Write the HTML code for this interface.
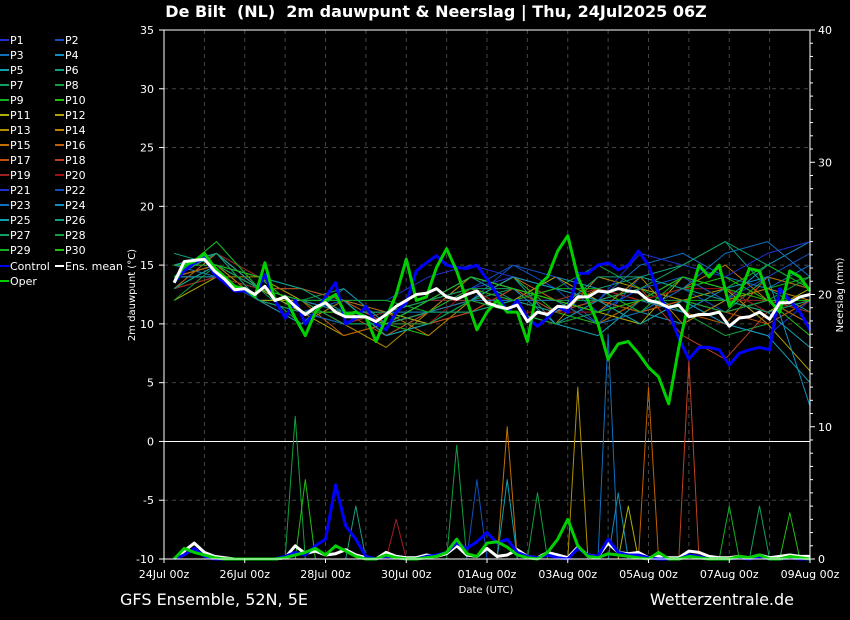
<!DOCTYPE html>
<html><head><meta charset="utf-8"><style>
body{margin:0;background:#000;width:850px;height:620px;overflow:hidden}
svg{display:block;font-family:"DejaVu Sans","Liberation Sans",sans-serif}
</style></head><body>
<svg id="chart" width="850" height="620" viewBox="0 0 850 620">
<text x="436" y="17" fill="#fff" font-size="16" font-weight="bold" text-anchor="middle" style="white-space:pre">De Bilt  (NL)  2m dauwpunt &amp; Neerslag | Thu, 24Jul2025 06Z</text>
<text x="120" y="605" fill="#fff" font-size="16">GFS Ensemble, 52N, 5E</text>
<text x="794" y="605" fill="#fff" font-size="16" text-anchor="end">Wetterzentrale.de</text>
<text x="486" y="593" fill="#fff" font-size="10" text-anchor="middle">Date (UTC)</text>
<text transform="translate(135,295) rotate(-90)" fill="#fff" font-size="10" text-anchor="middle">2m dauwpunt (°C)</text>
<text transform="translate(843,295) rotate(-90)" fill="#fff" font-size="10" text-anchor="middle">Neerslag (mm)</text>
<g id="grid"></g><g id="series"></g><g id="axes"></g><g id="legend"></g>
</svg>
<script>
const tempTicks=[35,30,25,20,15,10,5,0,-5,-10];
const precipTicks=[40,30,20,10,0];
const dateLabels=["24Jul 00z","26Jul 00z","28Jul 00z","30Jul 00z","01Aug 00z","03Aug 00z","05Aug 00z","07Aug 00z","09Aug 00z"];
const meanT=[13.5,15.3,15.4,15.5,14.5,13.8,12.9,13.0,12.5,13.2,12.0,12.3,11.5,10.8,11.4,11.8,11.0,10.6,10.6,10.6,10.2,10.8,11.5,12.0,12.5,12.6,13.0,12.3,12.1,12.5,12.8,11.8,11.5,11.3,11.6,10.2,11.0,10.8,11.5,11.4,12.3,12.3,12.8,12.7,13.0,12.8,12.7,12.0,11.8,11.4,11.6,10.6,10.8,10.8,11.0,9.8,10.5,10.6,11.0,10.4,11.8,11.8,12.3,12.5];
const controlT=[13.5,14.5,15.2,15.6,14.2,13.5,12.8,12.8,12.3,14.2,12.0,10.5,12.0,10.0,11.0,12.3,13.5,10.0,10.5,11.5,10.0,9.5,11.0,11.8,14.5,15.2,15.8,15.0,14.8,14.7,15.0,13.8,12.5,11.0,12.0,10.5,9.8,10.5,11.5,11.0,14.3,14.3,15.0,15.2,14.6,15.0,16.2,15.0,12.5,11.0,8.8,7.0,8.0,8.0,7.8,6.5,7.5,7.8,8.0,7.8,13.0,12.0,11.0,9.5];
const operT=[13.5,15.0,15.3,16.0,14.8,14.0,13.2,13.0,12.3,15.2,12.0,12.3,10.5,9.0,11.0,12.0,12.5,10.8,11.0,10.6,8.5,10.5,12.5,15.5,12.0,12.3,14.8,16.4,14.5,12.0,9.5,11.0,12.0,11.0,11.0,8.5,13.2,14.0,16.2,17.5,14.0,12.0,10.0,7.0,8.3,8.5,7.5,6.3,5.5,3.2,8.0,12.0,15.0,14.0,15.0,11.5,12.5,14.7,14.5,12.0,11.0,14.5,14.0,12.8];
const meanP=[0,0.6,1.2,0.5,0.2,0.1,0,0,0,0,0,0.1,1.0,0.4,0.6,0.3,0.4,0.7,0.3,0.1,0,0.5,0.2,0.1,0.1,0.3,0.2,0.4,1.0,0.3,0.2,0.8,0.2,0.3,0.7,0.2,0.1,0.5,0.3,0.1,0.9,0.3,0.2,1.2,0.5,0.4,0.5,0.1,0.2,0.1,0.1,0.6,0.5,0.2,0.1,0.1,0.2,0.1,0.3,0.1,0.2,0.3,0.2,0.2];
const controlP=[0,0.3,0.8,0.2,0,0,0,0,0,0,0,0.2,0.5,0.3,1.0,1.5,5.6,2.5,1.5,0.2,0,0.2,0.1,0,0,0.2,0.3,0.5,1.2,0.8,1.3,2.0,1.2,1.5,0.5,0.2,0.1,0.3,0.1,0,0.8,0.3,0.2,1.5,0.5,0.3,0.3,0.1,0,0,0,0.3,0.2,0,0,0,0.1,0,0.2,0,0,0.1,0,0];
const operP=[0,0.8,0.5,0.3,0.1,0,0,0,0,0,0,0.1,0.3,0.5,0.8,0.3,1.0,0.6,0.2,0,0,0.3,0.1,0,0,0.1,0.2,0.5,1.5,0.4,0.2,1.2,1.3,0.9,0.3,0.1,0,0.5,1.5,3.0,1.0,0.2,0.1,0.4,0.3,0.2,0.1,0,0.5,0,0,0.2,0.1,0,0,0,0.2,0.1,0.3,0,0,0.2,0.1,0];
const members=[
[14,15,13,12,11,10,11,13,14,12,11,13,12,10,9,12],[13,16,13,11,12,11,10,12,15,13,10,14,13,11,12,10],
[15,14,12,12,10,11,12,14,13,11,12,15,16,14,13,15],[14,16,14,13,12,9,11,13,12,14,13,11,10,12,15,17],
[13,15,13,11,10,10,12,12,14,10,9,12,14,13,11,8],[16,15,12,12,11,11,11,14,12,12,13,14,15,17,13,11],
[14,14,13,10,12,9,10,12,13,11,12,10,12,11,14,13],[15,16,14,12,13,10,11,11,12,13,15,13,11,9,10,12],
[13,15,12,11,10,11,12,13,11,10,12,13,12,12,13,14],[14,17,13,13,12,10,9,12,14,11,10,12,13,14,12,9],
[12,14,12,12,11,11,10,11,13,12,11,10,14,12,11,13],[14,15,13,11,9,10,12,13,12,14,12,11,12,13,10,6],
[13,14,14,12,10,8,11,12,11,10,14,13,12,11,12,11],[15,16,13,12,11,10,11,14,13,12,11,14,10,12,13,12],
[14,15,12,10,12,11,9,12,12,11,13,12,13,15,12,10],[13,16,13,12,9,10,11,12,14,12,10,12,11,10,14,13],
[14,14,12,11,11,9,11,13,12,13,12,11,12,11,10,12],[15,15,13,13,12,10,10,11,13,11,12,13,9,7,11,12],
[13,14,13,12,10,11,12,12,12,12,13,12,14,12,12,11],[14,16,14,11,11,10,10,13,11,11,11,12,13,13,11,12],
[15,15,13,12,12,12,14,15,14,13,12,16,15,14,16,17],[14,16,12,11,10,10,12,13,15,14,11,13,14,12,14,16],
[13,15,13,12,11,11,11,12,12,12,10,11,13,16,17,14],[14,14,12,10,13,10,12,14,13,10,12,12,11,13,14,3],
[15,16,13,12,12,9,10,12,14,13,12,10,12,10,9,5],[13,15,14,13,11,10,11,11,12,11,14,14,13,12,11,12],
[14,16,12,11,11,11,12,13,13,12,12,13,15,17,15,13],[12,15,13,12,10,10,10,12,11,10,11,12,12,11,12,14],
[14,17,13,12,12,12,11,13,12,13,13,11,14,13,15,13],[15,15,14,11,11,10,12,14,13,12,11,12,14,13,12,12]];
const spikeMember=[7,9,7,24,14,12,2,15,17,5,27,10,21,3,8,26,29,18];
const spikeStep=[12,13,28,33,33,40,43,47,51,18,36,45,30,44,55,58,61,22];
const spikeMM=[10.8,6,8.6,6,10,13,17,13,15,4,5,4,6,5,4,4,3.5,3];
const colors=["#2030d0","#1050c0","#1070c0","#1090c0","#10a0b0","#10a080","#10a060","#10a040","#10b020","#20c010","#b0b000","#b0a000","#b09000","#c08000","#c07000","#c06000","#c05010","#c04020","#a02020","#a01010"];
const NS="http://www.w3.org/2000/svg";
const X0=164,X1=810,Y0=30,Y1=559;
const xS=d=>X0+d*(X1-X0)/16;
const yT=v=>Y1-(v+10)*(Y1-Y0)/45;
const yP=v=>Y1-v*(Y1-Y0)/40;
function el(tag,attrs,parent){const e=document.createElementNS(NS,tag);for(const k in attrs)e.setAttribute(k,attrs[k]);parent.appendChild(e);return e;}
const grid=document.getElementById('grid'),ser=document.getElementById('series'),axes=document.getElementById('axes'),leg=document.getElementById('legend');
for(let d=1;d<16;d++){const g=el('line',{x1:xS(d),x2:xS(d),y1:Y0,y2:Y1,stroke:'#444','stroke-dasharray':'4,4'},grid);

}
tempTicks.forEach(t=>{if(t===0||t===35||t===-10)return;const g=el('line',{x1:X0,x2:X1,y1:yT(t),y2:yT(t),stroke:'#444','stroke-dasharray':'4,4'},grid);

});
const zl=el('line',{x1:X0,x2:X1,y1:yT(0),y2:yT(0),stroke:'#fff'},grid);


function poly(vals,xf,yf,color,w,name){const pts=vals.map((v,i)=>xf(i).toFixed(1)+','+yf(v).toFixed(1)).join(' ');
const p=el('polyline',{points:pts,fill:'none',stroke:color,'stroke-width':w,'stroke-linejoin':'round'},ser);

}
const x6=i=>xS(0.25+i*0.25);
const xm=i=>xS(0.25+i*15.75/15);
members.forEach((m,k)=>{poly(m,xm,yT,colors[k%20],1,'member-p'+(k+1)+'-dewpoint');});
members.forEach((m,k)=>{const arr=new Array(64).fill(0);spikeMember.forEach((s,j)=>{if(s===k){arr[spikeStep[j]]=spikeMM[j];}});
if(arr.some(v=>v>0))poly(arr,x6,yP,colors[k%20],1,'member-p'+(k+1)+'-precip');});
poly(meanP,x6,yP,'#fff',3,'ens-mean-precip');
poly(controlP,x6,yP,'#0000ff',3,'control-precip');
poly(operP,x6,yP,'#00d000',3,'oper-precip');
poly(controlT,x6,yT,'#0000ff',3,'control-dewpoint');
poly(operT,x6,yT,'#00d000',3,'oper-dewpoint');
poly(meanT,x6,yT,'#fff',3,'ens-mean-dewpoint');
const fr=el('rect',{x:X0,y:Y0,width:X1-X0,height:Y1-Y0,fill:'none',stroke:'#fff'},axes);


tempTicks.forEach(t=>{el('line',{x1:X0-5,x2:X0,y1:yT(t),y2:yT(t),stroke:'#fff'},axes);
const tx=el('text',{x:X0-10,y:yT(t)+4,fill:'#fff','font-size':11,'text-anchor':'end'},axes);tx.textContent=t;

});
for(let p=0;p<=40;p++){el('line',{x1:X1,x2:X1+(p%10===0?5:3),y1:yP(p),y2:yP(p),stroke:'#fff'},axes);}
precipTicks.forEach(p=>{const tx=el('text',{x:X1+8,y:yP(p)+4,fill:'#fff','font-size':11},axes);tx.textContent=p;

});
dateLabels.forEach((d,i)=>{el('line',{x1:xS(i*2),x2:xS(i*2),y1:Y1,y2:Y1+4,stroke:'#fff'},axes);
const tx=el('text',{x:xS(i*2),y:Y1+19,fill:'#fff','font-size':11,'text-anchor':'middle'},axes);tx.textContent=d;

});
const legItems=[];for(let k=0;k<30;k++)legItems.push(['P'+(k+1),colors[k%20]]);
legItems.push(['Control','#0000ff']);legItems.push(['Ens. mean','#fff']);legItems.push(['Oper','#00d000']);
legItems.forEach((it,i)=>{const col=i%2,row=Math.floor(i/2);const x=col?55:0,y=40+row*15+(row>=15?1:0);
const g=el('g',{},leg);


el('line',{x1:x,x2:x+9,y1:y,y2:y,stroke:it[1],'stroke-width':2},g);
const tx=el('text',{x:x+10,y:y+4,fill:'#fff','font-size':11},g);tx.textContent=it[0];});
</script>
</body></html>
